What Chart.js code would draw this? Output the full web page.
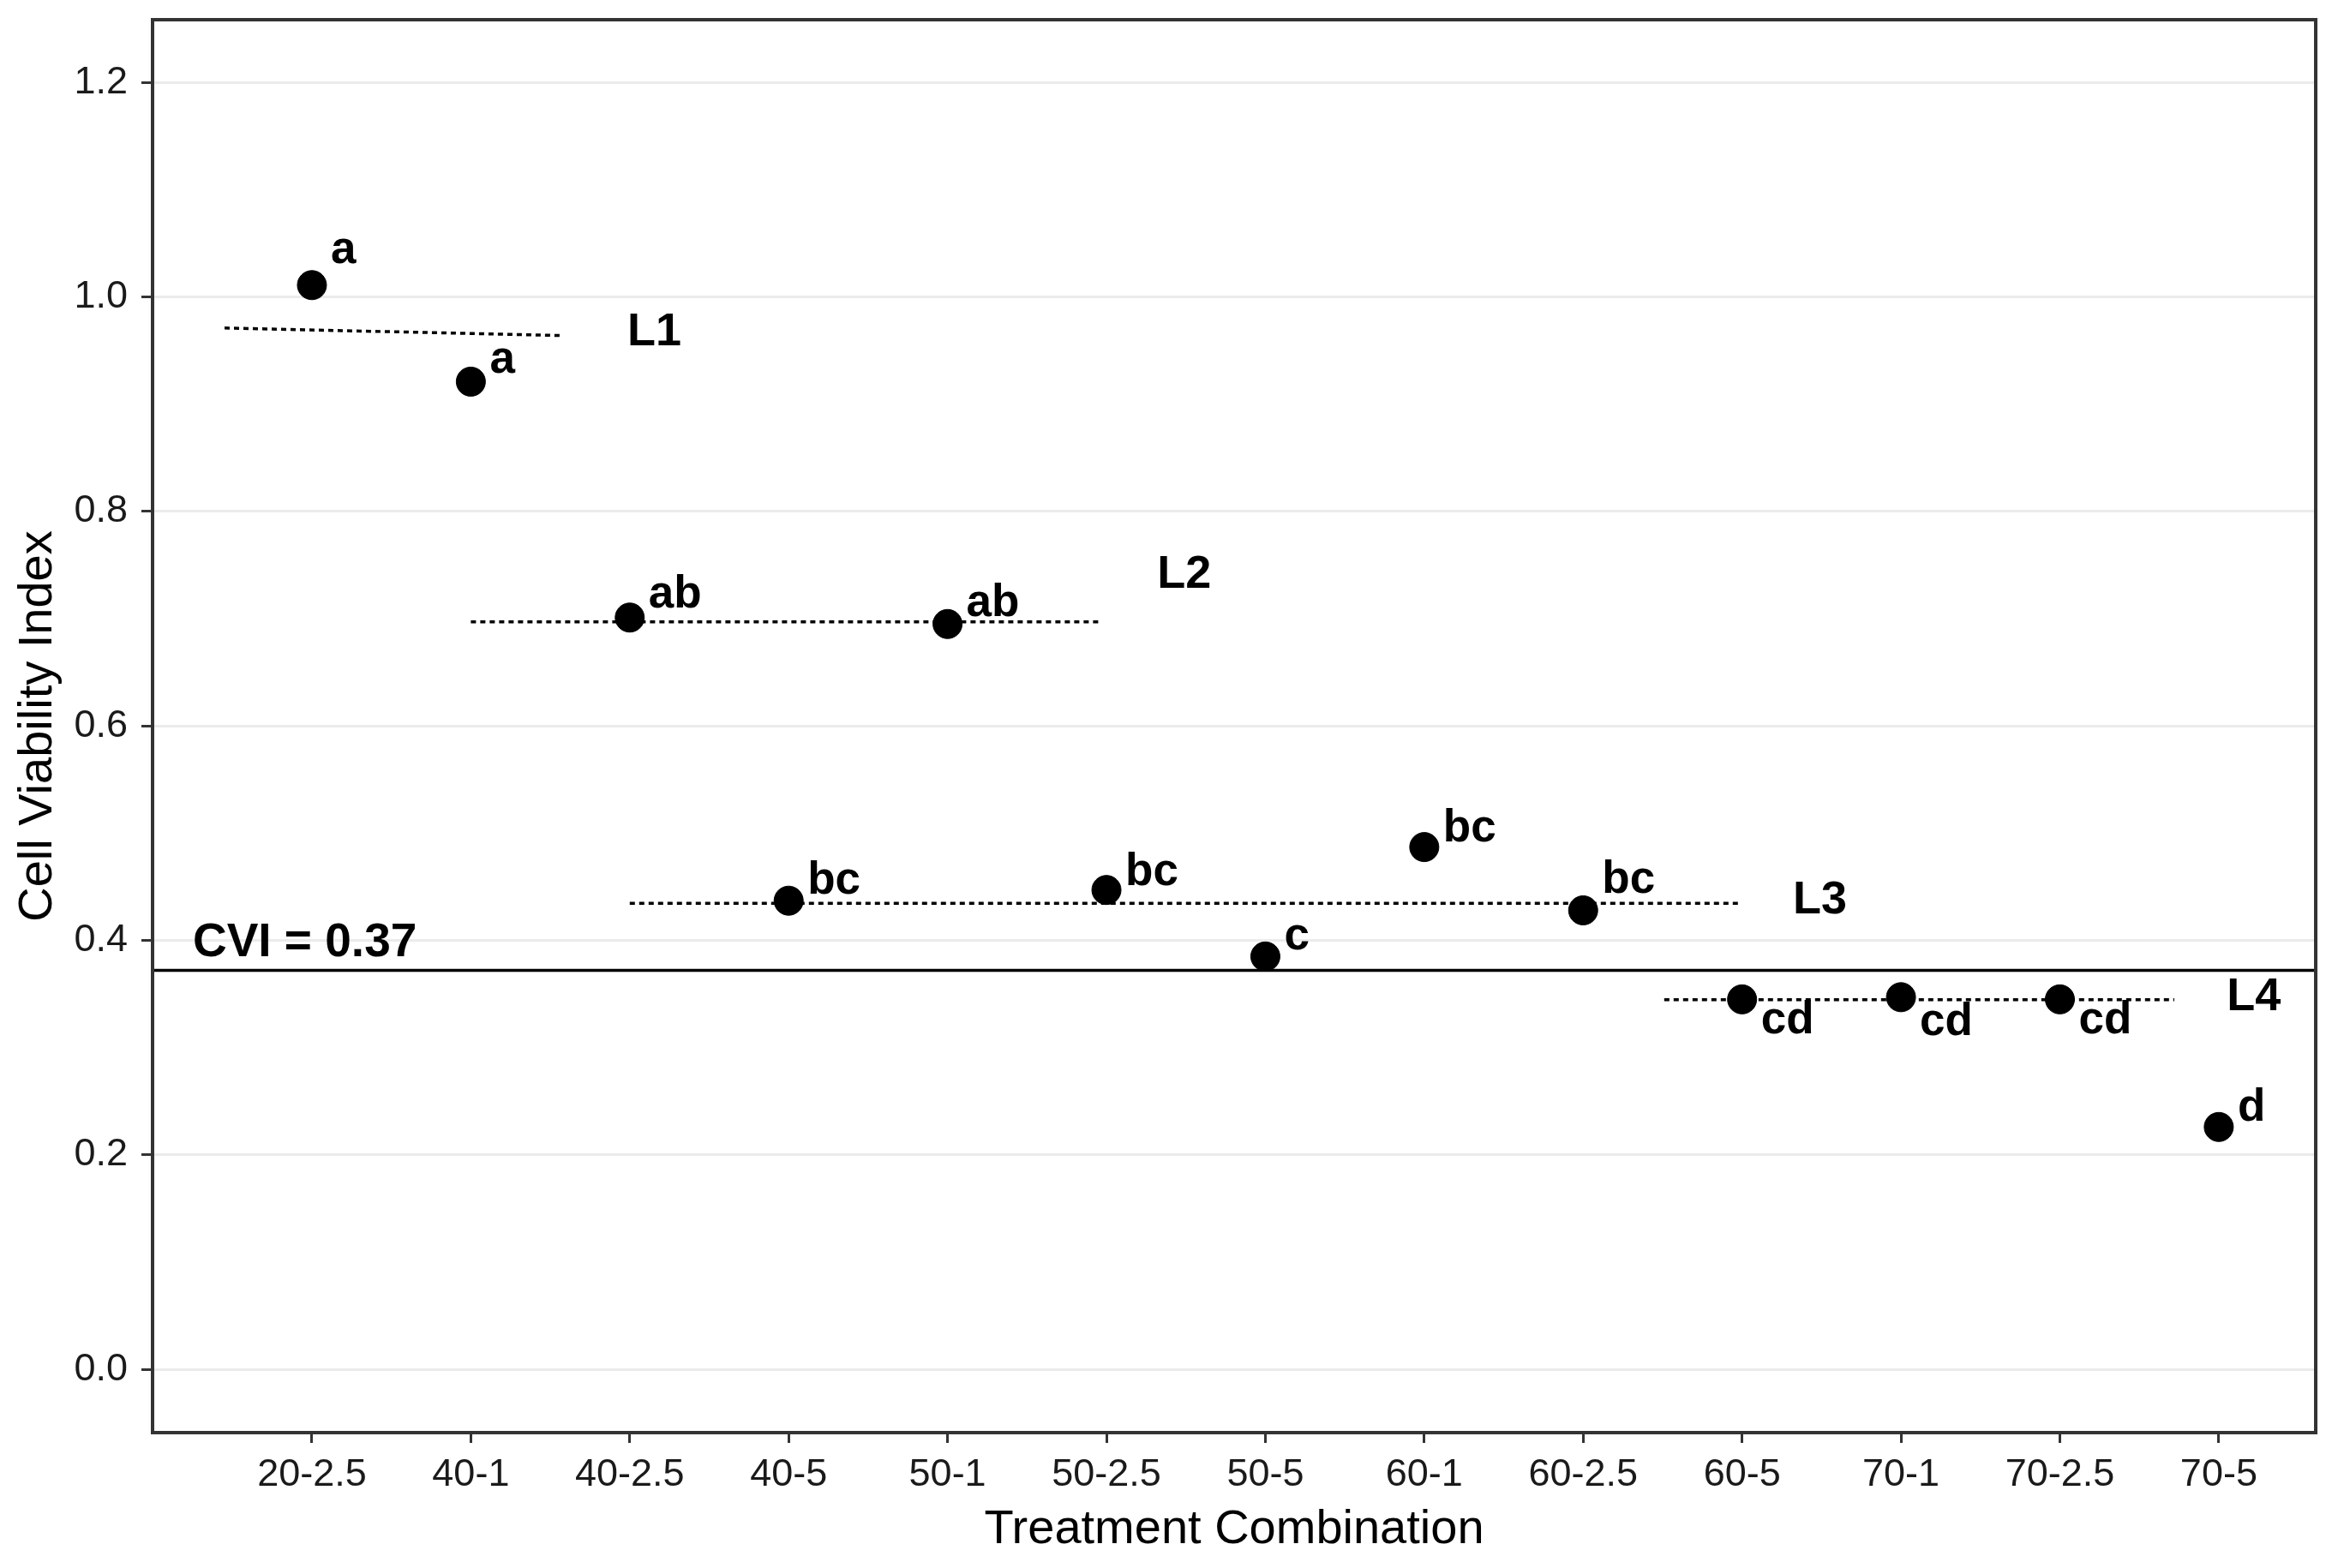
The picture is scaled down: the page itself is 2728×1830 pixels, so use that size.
<!DOCTYPE html>
<html>
<head>
<meta charset="utf-8">
<script src="https://cdn.jsdelivr.net/npm/chart.js@4.4.1/dist/chart.umd.min.js"></script>
<style>
  html, body { margin: 0; padding: 0; background: #fff; }
  #wrap { width: 2728px; height: 1830px; }
</style>
</head>
<body>
<div id="wrap"><canvas id="myChart" width="2728" height="1830"></canvas></div>
<script>
// Treatment combinations on the x axis
const treatments = ['20-2.5', '40-1', '40-2.5', '40-5', '50-1', '50-2.5', '50-5', '60-1', '60-2.5', '60-5', '70-1', '70-2.5', '70-5'];

// Cell viability index per treatment
const cviValues = [1.011, 0.921, 0.701, 0.437, 0.695, 0.447, 0.385, 0.487, 0.428, 0.345, 0.347, 0.345, 0.226];

// Significance letters
const letters = ['a', 'a', 'ab', 'bc', 'ab', 'bc', 'c', 'bc', 'bc', 'cd', 'cd', 'cd', 'd'];

// y tick values
const yTicks = [0.0, 0.2, 0.4, 0.6, 0.8, 1.0, 1.2];

// Critical CVI threshold
const cviThreshold = 0.37;

// Groups (dotted mean lines)
const groupNames = ['L1', 'L2', 'L3', 'L4'];
const groupFrom = [-0.55, 1.0, 2.0, 8.51];
const groupTo = [1.58, 4.96, 8.98, 11.72];
const groupMeanFrom = [0.971, 0.697, 0.4345, 0.3446];
const groupMeanTo = [0.964, 0.697, 0.4345, 0.3446];

// --- layout only (not data) ---
const xMin = -1.003, xMax = 12.61;
const yMin = -0.059, yMax = 1.2585;
const letterDy = [-26, -10, -12, -8, -9, -6, -8, -7, -20, 40, 44, 40, -7];
const groupLabelAt = [[1.985, 0.967], [5.32, 0.741], [9.32, 0.437], [12.05, 0.347]];
const cviLabelAt = [-0.75, 0.397];

const FONT = '"Liberation Sans", Arial, sans-serif';
const ctx = document.getElementById('myChart');

const pointData = cviValues.map((v, i) => ({ x: i, y: v }));

const groupDatasets = groupNames.map((name, g) => ({
    type: 'line',
    label: name,
    data: [{ x: groupFrom[g], y: groupMeanFrom[g] }, { x: groupTo[g], y: groupMeanTo[g] }],
    borderColor: '#000',
    borderWidth: 3.5,
    borderDash: [6, 5],
    pointRadius: 0,
    fill: false,
    order: 1
}));

// Texts, threshold line and panel border
const annotate = {
    id: 'annotate',
    afterDatasetsDraw(chart) {
        const { ctx, chartArea: a, scales: { x, y } } = chart;
        ctx.save();

        const yc = y.getPixelForValue(cviThreshold + 0.002);
        ctx.strokeStyle = '#000';
        ctx.lineWidth = 3.5;
        ctx.beginPath();
        ctx.moveTo(a.left, yc);
        ctx.lineTo(a.right, yc);
        ctx.stroke();

        ctx.fillStyle = '#000';
        ctx.textAlign = 'left';
        ctx.textBaseline = 'alphabetic';
        ctx.font = `bold 53px ${FONT}`;
        letters.forEach((t, i) => {
            const px = x.getPixelForValue(i) + 22;
            const py = y.getPixelForValue(cviValues[i]) + letterDy[i];
            ctx.fillText(t, px, py);
        });

        ctx.textBaseline = 'middle';
        ctx.font = `bold 54px ${FONT}`;
        groupNames.forEach((name, g) => {
            ctx.fillText(name, x.getPixelForValue(groupLabelAt[g][0]), y.getPixelForValue(groupLabelAt[g][1]));
        });

        ctx.font = `bold 55px ${FONT}`;
        ctx.fillText(`CVI = ${cviThreshold.toFixed(2)}`, x.getPixelForValue(cviLabelAt[0]), y.getPixelForValue(cviLabelAt[1]));

        ctx.strokeStyle = '#333';
        ctx.lineWidth = 4;
        ctx.strokeRect(a.left, a.top, a.right - a.left, a.bottom - a.top);
        ctx.restore();
    }
};

const myChart = new Chart(ctx, {
    type: 'scatter',
    data: {
        datasets: [{
            label: 'CVI',
            data: pointData,
            backgroundColor: '#000',
            borderColor: '#000',
            pointRadius: 17,
            pointHoverRadius: 17,
            order: 0
        }, ...groupDatasets]
    },
    options: {
        responsive: false,
        animation: false,
        devicePixelRatio: 1,
        layout: { padding: { top: 23, right: 26, left: 0, bottom: 0 } },
        plugins: {
            legend: { display: false },
            tooltip: { enabled: false }
        },
        scales: {
            x: {
                type: 'linear',
                min: xMin,
                max: xMax,
                afterBuildTicks: (scale) => { scale.ticks = treatments.map((t, i) => ({ value: i })); },
                afterFit: (scale) => {
                    scale.height = 158;
                    scale.paddingLeft = 0;
                    scale.paddingRight = 0;
                },
                ticks: {
                    autoSkip: false,
                    maxRotation: 0,
                    minRotation: 0,
                    padding: 11,
                    color: '#1a1a1a',
                    font: { family: FONT, size: 45 },
                    callback: (v) => treatments[v] ?? ''
                },
                grid: {
                    drawOnChartArea: false,
                    drawTicks: true,
                    tickLength: 12,
                    tickColor: '#333',
                    tickWidth: 3
                },
                border: { display: false },
                title: {
                    display: true,
                    text: 'Treatment Combination',
                    color: '#000',
                    font: { family: FONT, size: 56 },
                    padding: { top: 11, bottom: 11 }
                }
            },
            y: {
                min: yMin,
                max: yMax,
                afterBuildTicks: (scale) => { scale.ticks = yTicks.map(v => ({ value: v })); },
                afterFit: (scale) => {
                    scale.width = 178;
                    scale.paddingTop = 0;
                    scale.paddingBottom = 0;
                },
                ticks: {
                    padding: 16,
                    color: '#1a1a1a',
                    font: { family: FONT, size: 45 },
                    callback: (v) => Number(v).toFixed(1)
                },
                grid: {
                    color: '#EBEBEB',
                    lineWidth: 3,
                    tickLength: 13,
                    tickColor: '#333',
                    tickWidth: 3
                },
                border: { display: false },
                title: {
                    display: true,
                    text: 'Cell Viability Index',
                    color: '#000',
                    font: { family: FONT, size: 56 },
                    padding: { top: 11, bottom: 11 }
                }
            }
        }
    },
    plugins: [annotate]
});
</script>
</body>
</html>
